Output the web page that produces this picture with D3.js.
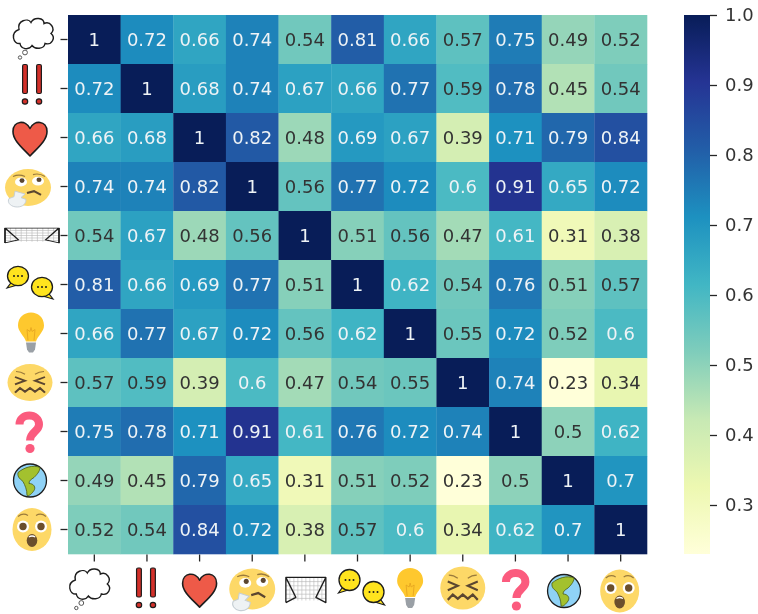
<!DOCTYPE html>
<html>
<head>
<meta charset="utf-8">
<script src="https://cdn.jsdelivr.net/npm/d3@7"></script>
<style>
  html, body { margin: 0; padding: 0; background: #fff; }
  svg { display: block; filter: blur(0.6px); }
  text { font-family: "DejaVu Sans", sans-serif; }
</style>
</head>
<body>
<div id="chart"></div>
<script>
const labels = ['thought', 'bangbang', 'heart', 'thinking', 'goal', 'speech', 'bulb', 'confounded', 'question', 'earth', 'astonished'];

const row0 = [1, 0.72, 0.66, 0.74, 0.54, 0.81, 0.66, 0.57, 0.75, 0.49, 0.52];
const row1 = [0.72, 1, 0.68, 0.74, 0.67, 0.66, 0.77, 0.59, 0.78, 0.45, 0.54];
const row2 = [0.66, 0.68, 1, 0.82, 0.48, 0.69, 0.67, 0.39, 0.71, 0.79, 0.84];
const row3 = [0.74, 0.74, 0.82, 1, 0.56, 0.77, 0.72, 0.6, 0.91, 0.65, 0.72];
const row4 = [0.54, 0.67, 0.48, 0.56, 1, 0.51, 0.56, 0.47, 0.61, 0.31, 0.38];
const row5 = [0.81, 0.66, 0.69, 0.77, 0.51, 1, 0.62, 0.54, 0.76, 0.51, 0.57];
const row6 = [0.66, 0.77, 0.67, 0.72, 0.56, 0.62, 1, 0.55, 0.72, 0.52, 0.6];
const row7 = [0.57, 0.59, 0.39, 0.6, 0.47, 0.54, 0.55, 1, 0.74, 0.23, 0.34];
const row8 = [0.75, 0.78, 0.71, 0.91, 0.61, 0.76, 0.72, 0.74, 1, 0.5, 0.62];
const row9 = [0.49, 0.45, 0.79, 0.65, 0.31, 0.51, 0.52, 0.23, 0.5, 1, 0.7];
const row10 = [0.52, 0.54, 0.84, 0.72, 0.38, 0.57, 0.6, 0.34, 0.62, 0.7, 1];
const matrix = [row0, row1, row2, row3, row4, row5, row6, row7, row8, row9, row10];

const colorbarTicks = [0.3, 0.4, 0.5, 0.6, 0.7, 0.8, 0.9, 1.0];

const width = 758, height = 614;
const plot = { left: 68, right: 647, top: 15, bottom: 554 };
const bar = { left: 684, right: 710 };

const svg = d3.select('#chart').append('svg')
  .attr('width', width)
  .attr('height', height)
  .attr('viewBox', `0 0 ${width} ${height}`);

const x = d3.scaleBand().domain(labels).range([plot.left, plot.right]);
const y = d3.scaleBand().domain(labels).range([plot.top, plot.bottom]);

// same stops as matplotlib's YlGnBu, linear between them
const ylGnBu = d3.piecewise(d3.interpolateRgb, d3.schemeYlGnBu[9]);
const color = d3.scaleSequential(ylGnBu).domain([0.23, 1]);

function luminance(c) {
  const { r, g, b } = d3.rgb(c);
  const f = (v) => {
    v /= 255;
    return v <= 0.03928 ? v / 12.92 : Math.pow((v + 0.055) / 1.055, 2.4);
  };
  return 0.2126 * f(r) + 0.7152 * f(g) + 0.0722 * f(b);
}

// --- Cells ---
const cells = svg.append('g').attr('class', 'cells');
const annot = svg.append('g').attr('class', 'annot');

matrix.forEach((values, r) => {
  values.forEach((v, c) => {
    cells.append('rect')
      .attr('x', x(labels[c]))
      .attr('y', y(labels[r]))
      .attr('width', x.bandwidth() + 0.3)
      .attr('height', y.bandwidth() + 0.3)
      .attr('fill', color(v));
    annot.append('text')
      .attr('x', x(labels[c]) + x.bandwidth() / 2)
      .attr('y', y(labels[r]) + y.bandwidth() / 2)
      .attr('dy', '0.36em')
      .attr('text-anchor', 'middle')
      .attr('font-size', 18)
      .attr('fill', luminance(color(v)) < 0.408 ? '#eef3f6' : '#333333')
      .text(v);
  });
});

// --- Axis ticks (the labels are pictures, so the tick text stays empty) ---
svg.append('g')
  .attr('transform', `translate(${plot.left - 0.5},0)`)
  .call(d3.axisLeft(y).tickSize(7).tickFormat(''))
  .call((g) => g.select('.domain').remove())
  .call((g) => g.selectAll('line').attr('stroke', '#262626').attr('stroke-width', 1.3));

svg.append('g')
  .attr('transform', `translate(0,${plot.bottom + 0.5})`)
  .call(d3.axisBottom(x).tickSize(7).tickFormat(''))
  .call((g) => g.select('.domain').remove())
  .call((g) => g.selectAll('line').attr('stroke', '#262626').attr('stroke-width', 1.3));

// --- Colorbar ---
const barScale = d3.scaleLinear().domain([0.23, 1]).range([plot.bottom, plot.top]);
const defs = svg.append('defs');
const grad = defs.append('linearGradient')
  .attr('id', 'bar-grad')
  .attr('x1', 0).attr('x2', 0).attr('y1', 1).attr('y2', 0);
d3.range(0, 1.0001, 0.125).forEach((t) => {
  grad.append('stop')
    .attr('offset', t)
    .attr('stop-color', ylGnBu(t));
});
svg.append('rect')
  .attr('x', bar.left)
  .attr('y', plot.top)
  .attr('width', bar.right - bar.left)
  .attr('height', plot.bottom - plot.top)
  .attr('fill', 'url(#bar-grad)');

svg.append('g')
  .attr('transform', `translate(${bar.right},0)`)
  .call(d3.axisRight(barScale).tickValues(colorbarTicks).tickSize(7).tickPadding(8).tickFormat(d3.format('.1f')))
  .call((g) => g.select('.domain').remove())
  .call((g) => g.selectAll('line').attr('stroke', '#262626').attr('stroke-width', 1.3))
  .call((g) => g.selectAll('text')
    .attr('font-size', 18)
    .attr('font-family', '"DejaVu Sans", sans-serif')
    .attr('fill', '#333333'));

// --- Emoji tick labels, drawn in a local box around (0,0) ---
const ink = '#1d1d1d';
const faceYellow = '#fdd867';

function face(g, rx, ry) {
  g.append('ellipse').attr('rx', rx).attr('ry', ry).attr('fill', faceYellow);
}

const icons = {
  thought(g) {
    g.append('path')
      .attr('d', 'M-14,-8 C-16,-17 -5,-20 -2,-15 C1,-21 11,-20 11,-14 C17,-17 23,-9 18,-4 C23,0 19,8 12,6 C11,12 2,12 -1,8 C-4,13 -12,12 -13,6 C-20,7 -23,-5 -14,-8 Z')
      .attr('fill', '#fff').attr('stroke', ink).attr('stroke-width', 1.4);
    g.append('circle').attr('cx', -8).attr('cy', 15).attr('r', 2.4)
      .attr('fill', '#fff').attr('stroke', '#555').attr('stroke-width', 1);
    g.append('circle').attr('cx', -13).attr('cy', 20).attr('r', 1.7)
      .attr('fill', '#fff').attr('stroke', '#555').attr('stroke-width', 1);
  },
  bangbang(g) {
    [-7, 7].forEach((dx) => {
      g.append('rect').attr('x', dx - 2.4).attr('y', -20).attr('width', 4.8).attr('height', 29).attr('rx', 1.5)
        .attr('fill', '#d3302a').attr('stroke', ink).attr('stroke-width', 1.2);
      g.append('circle').attr('cx', dx).attr('cy', 17).attr('r', 2.7)
        .attr('fill', '#d3302a').attr('stroke', ink).attr('stroke-width', 1.2);
    });
  },
  heart(g) {
    g.append('path')
      .attr('d', 'M0,17.5 C-8,9 -17,2 -17,-7 C-17,-18 -4,-19 0,-10 C4,-19 17,-18 17,-7 C17,2 8,9 0,17.5 Z')
      .attr('fill', '#ee5a48').attr('stroke', ink).attr('stroke-width', 1.6).attr('stroke-linejoin', 'round');
  },
  thinking(g) {
    face(g, 23, 20);
    [[-7, -6], [10, -7]].forEach(([cx, cy]) => {
      g.append('ellipse').attr('cx', cx).attr('cy', cy).attr('rx', 6).attr('ry', 4.8).attr('fill', '#fff');
      g.append('circle').attr('cx', cx + 1).attr('cy', cy - 1.5).attr('r', 2.5).attr('fill', '#5b4630');
    });
    g.append('path').attr('d', 'M-15,-12 Q-9,-15 -3,-12 M5,-14 Q11,-16 17,-12')
      .attr('fill', 'none').attr('stroke', '#9b7b3c').attr('stroke-width', 1.3);
    g.append('path').attr('d', 'M-1,6 L6,4 L13,8')
      .attr('fill', 'none').attr('stroke', '#5b4630').attr('stroke-width', 2.2);
    g.append('path')
      .attr('d', 'M-13,4 L-3,7 L-7,11 L-2,13 C-2,19 -7,22 -13,21 C-18,20 -21,16 -19,12 L-14,10 Z')
      .attr('fill', '#eef2f4').attr('stroke', '#c5ced4').attr('stroke-width', 1);
  },
  goal(g) {
    const w = 20, h = 12;
    const net = g.append('g').attr('stroke', '#b5b5b5').attr('stroke-width', 0.6);
    d3.range(-w + 4, w, 4).forEach((v) => {
      net.append('line').attr('x1', v).attr('x2', v).attr('y1', -h).attr('y2', h - 2);
    });
    d3.range(-h + 4, h - 2, 4).forEach((v) => {
      net.append('line').attr('x1', -w).attr('x2', w).attr('y1', v).attr('y2', v);
    });
    g.append('path')
      .attr('d', `M${-w},${h} L${-w},${-h} L${w},${-h} L${w},${h} L${w - 10},${h - 5} L${w},${-h} M${-w},${h} L${-w + 10},${h - 5} L${-w},${-h}`)
      .attr('fill', 'none').attr('stroke', ink).attr('stroke-width', 1.3).attr('stroke-linejoin', 'round');
  },
  speech(g) {
    [[-12, -6], [12, 6]].forEach(([cx, cy], i) => {
      const b = g.append('g').attr('transform', `translate(${cx},${cy})`);
      const tail = i === 0 ? 'M-6,6 L-11,13 L2,9 Z' : 'M6,6 L11,13 L-2,9 Z';
      b.append('path').attr('d', tail).attr('fill', '#ffe41e').attr('stroke', ink).attr('stroke-width', 1.2);
      b.append('ellipse').attr('rx', 10.5).attr('ry', 10.5).attr('fill', '#ffe41e').attr('stroke', ink).attr('stroke-width', 1.3);
      [-4, 0, 4].forEach((d) => {
        b.append('circle').attr('cx', d).attr('r', 1).attr('fill', ink);
      });
    });
  },
  bulb(g) {
    g.append('path')
      .attr('d', 'M-5,9 C-7,3 -13,-1 -13,-7 C-13,-15 -7,-20 0,-20 C7,-20 13,-15 13,-7 C13,-1 7,3 5,9 Z')
      .attr('fill', '#fec82e');
    g.append('path').attr('d', 'M-3,8 L-4,-3 L-1,-1 L0,-5 L1,-1 L4,-3 L3,8')
      .attr('fill', 'none').attr('stroke', '#e3a21f').attr('stroke-width', 0.8);
    g.append('path').attr('d', 'M-5,10 L5,10 L4,17 L2,20 L-2,20 L-4,17 Z').attr('fill', '#9aa0a6');
  },
  confounded(g) {
    face(g, 22.5, 20);
    g.append('path').attr('d', 'M-15,-6 L-5,-2 L-15,2 M15,-6 L5,-2 L15,2')
      .attr('fill', 'none').attr('stroke', '#5b4630').attr('stroke-width', 2);
    g.append('path').attr('d', 'M-14,-12 Q-9,-12 -5,-9 M14,-12 Q9,-12 5,-9')
      .attr('fill', 'none').attr('stroke', '#9b7b3c').attr('stroke-width', 1.2);
    g.append('path').attr('d', 'M-15,11 L-10,6 L-5,10 L0,6 L5,10 L10,6 L15,11')
      .attr('fill', 'none').attr('stroke', '#5b4630').attr('stroke-width', 2.2);
  },
  question(g) {
    g.append('path')
      .attr('d', 'M-9.5,-8 C-9.5,-20 10,-20 10,-8 C10,-1 1,-1 1,8')
      .attr('fill', 'none').attr('stroke', '#fb5b7e').attr('stroke-width', 8);
    g.append('circle').attr('cx', 1).attr('cy', 16).attr('r', 4.6).attr('fill', '#fb5b7e');
  },
  earth(g) {
    g.append('circle').attr('r', 16.5).attr('fill', '#8fd2f6').attr('stroke', ink).attr('stroke-width', 1.3);
    g.append('path')
      .attr('d', 'M-12,-8 C-6,-13 3,-16 10,-13 C10,-9 6,-5 4,-3 C1,-1 -1,0 -1,3 C4,3 6,7 4,10 C2,13 -1,16 -3,15 C-3,9 -5,5 -7,1 C-9,-1 -13,-3 -12,-8 Z')
      .attr('fill', '#a3c12e').attr('stroke', '#4a5a16').attr('stroke-width', 0.8);
  },
  astonished(g) {
    face(g, 19.5, 21.5);
    [-9, 9].forEach((dx) => {
      g.append('circle').attr('cx', dx).attr('cy', -3).attr('r', 6).attr('fill', '#fff');
      g.append('circle').attr('cx', dx).attr('cy', -3).attr('r', 3.7).attr('fill', '#6b4f2c');
    });
    g.append('path').attr('d', 'M-14,-13 Q-9,-17 -4,-14 M4,-14 Q9,-17 14,-13')
      .attr('fill', 'none').attr('stroke', '#9b7b3c').attr('stroke-width', 1.2);
    g.append('ellipse').attr('cy', 11).attr('rx', 5.3).attr('ry', 6.5).attr('fill', '#6b4f2c');
    g.append('path').attr('d', 'M-3.5,7 Q0,4.5 3.5,7 L3,8 Q0,6.5 -3,8 Z').attr('fill', '#fff');
  },
};

// offset and stretch of each picture from its tick
const leftPlace = {
  thought: [33, -2, 1, 1], bangbang: [32, -4, 1, 1], heart: [30, 1, 1, 1], thinking: [28, 1, 1, 0.92],
  goal: [32, 0, 1.35, 0.62], speech: [30, -3, 1, 0.92], bulb: [31, -1, 1, 1],
  confounded: [30, 0, 1, 0.92], question: [29, 1, 1, 1], earth: [30, 0, 1, 1], astonished: [32, 0, 1, 1],
};
const bottomOffset = {
  thought: [-5, 0, 1, 1], bangbang: [-1, 0, 1, 1], heart: [0, 2, 1, 0.98], thinking: [0, 1, 1, 1.02],
  goal: [1, 2, 1, 1.05], speech: [4, -2, 1, 1], bulb: [0, 0, 1, 1],
  confounded: [0, 0, 1, 1.08], question: [0, 2, 1, 1], earth: [-4, 3, 1, 1], astonished: [-1, 3, 1, 1],
};

const leftIcons = svg.append('g').attr('class', 'y-icons');
const bottomIcons = svg.append('g').attr('class', 'x-icons');

labels.forEach((name) => {
  const [lx, ldy, lsx, lsy] = leftPlace[name];
  icons[name](leftIcons.append('g')
    .attr('transform', `translate(${lx},${y(name) + y.bandwidth() / 2 + ldy}) scale(${lsx},${lsy})`));

  const [bdx, bdy, bsx, bsy] = bottomOffset[name];
  icons[name](bottomIcons.append('g')
    .attr('transform', `translate(${x(name) + x.bandwidth() / 2 + bdx},${588 + bdy}) scale(${bsx},${bsy})`));
});
</script>
</body>
</html>
